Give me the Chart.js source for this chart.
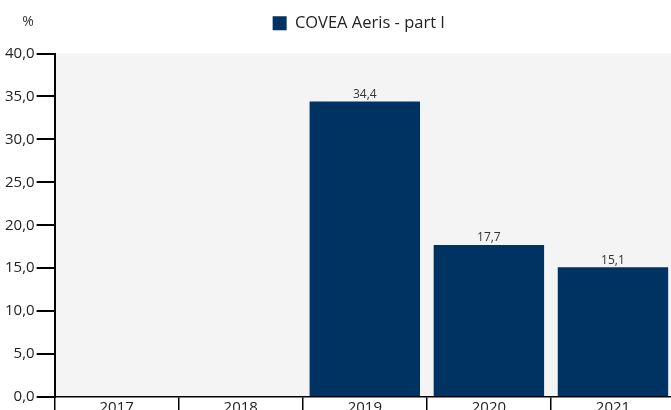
<!DOCTYPE html>
<html>
<head>
<meta charset="utf-8">
<script src="https://cdn.jsdelivr.net/npm/chart.js@4.4.1/dist/chart.umd.min.js"></script>
<style>
  html, body { margin: 0; padding: 0; background: #fff; overflow: hidden; }
  #wrap { width: 671px; height: 410px; overflow: hidden; }
</style>
</head>
<body>
<div id="wrap"><canvas id="chart" width="675" height="410"></canvas></div>
<script>
// Data
const years = ['2017', '2018', '2019', '2020', '2021'];
const values = [null, null, 34.4, 17.7, 15.1];
const seriesName = 'COVEA Aeris - part I';
const yTicks = [0, 5, 10, 15, 20, 25, 30, 35, 40];

const barColor = '#003362';
const fontFamily = '"Open Sans", "Noto Sans", sans-serif';

function fmt(v) {
    return v.toFixed(1).replace('.', ',');
}

// Grey plot background
const plotBg = {
    id: 'plotBg',
    beforeDraw(chart) {
        const a = chart.chartArea, ctx = chart.ctx;
        ctx.save();
        ctx.fillStyle = '#f4f4f4';
        ctx.fillRect(a.left, a.top, a.right - a.left, a.bottom - a.top);
        ctx.restore();
    }
};

// Extra room under the legend, and nudge it a bit to the left
const legendSpace = {
    id: 'legendSpace',
    beforeInit(chart) {
        const fit = chart.legend.fit;
        chart.legend.fit = function () {
            fit.bind(chart.legend)();
            this.height += 12;
        };
    },
    afterLayout(chart) {
        chart.legend.left -= 6;
        chart.legend.right -= 6;
    }
};

// Value labels above bars and "%" unit
const extras = {
    id: 'extras',
    afterDatasetsDraw(chart) {
        const ctx = chart.ctx;
        const meta = chart.getDatasetMeta(0);
        ctx.save();
        ctx.font = '12px ' + fontFamily;
        ctx.fillStyle = '#333';
        ctx.textAlign = 'center';
        ctx.textBaseline = 'bottom';
        meta.data.forEach(function (bar, i) {
            if (values[i] == null) return;
            ctx.fillText(fmt(values[i]), bar.x, bar.y - 1);
        });
        ctx.font = '14px ' + fontFamily;
        ctx.fillStyle = '#333';
        ctx.textBaseline = 'middle';
        ctx.fillText('%', 28, 22);
        ctx.restore();
    }
};

new Chart(document.getElementById('chart'), {
    type: 'bar',
    data: {
        labels: years,
        datasets: [{
            label: seriesName,
            data: values,
            backgroundColor: barColor,
            borderWidth: 0,
            categoryPercentage: 1,
            barPercentage: 0.89
        }]
    },
    options: {
        responsive: false,
        animation: false,
        layout: { padding: { top: 0, right: 0, bottom: 0, left: 3 } },
        plugins: {
            legend: {
                display: true,
                position: 'top',
                fullSize: false,
                labels: {
                    font: { size: 16.5, family: fontFamily },
                    color: '#222',
                    boxWidth: 14,
                    boxHeight: 14,
                    padding: 15
                }
            },
            tooltip: { enabled: false }
        },
        scales: {
            x: {
                offset: true,
                border: { display: true, color: '#000', width: 1.5 },
                grid: {
                    offset: true,
                    drawOnChartArea: false,
                    drawTicks: true,
                    tickLength: 13,
                    color: '#000',
                    lineWidth: 1.5
                },
                ticks: {
                    font: { size: 15, family: fontFamily },
                    color: '#222',
                    padding: -11,
                    maxRotation: 0
                },
                afterFit: function (scale) { scale.height = 13; }
            },
            y: {
                min: 0,
                max: 40,
                afterBuildTicks: function (scale) {
                    scale.ticks = yTicks.map(function (v) { return { value: v }; });
                },
                border: { display: true, color: '#000', width: 2 },
                grid: {
                    drawOnChartArea: false,
                    drawTicks: true,
                    tickLength: 18,
                    color: '#000',
                    lineWidth: 2
                },
                ticks: {
                    font: { size: 15, family: fontFamily },
                    color: '#222',
                    padding: 2,
                    callback: function (v) { return fmt(v); }
                }
            }
        }
    },
    plugins: [plotBg, legendSpace, extras]
});
</script>
</body>
</html>
